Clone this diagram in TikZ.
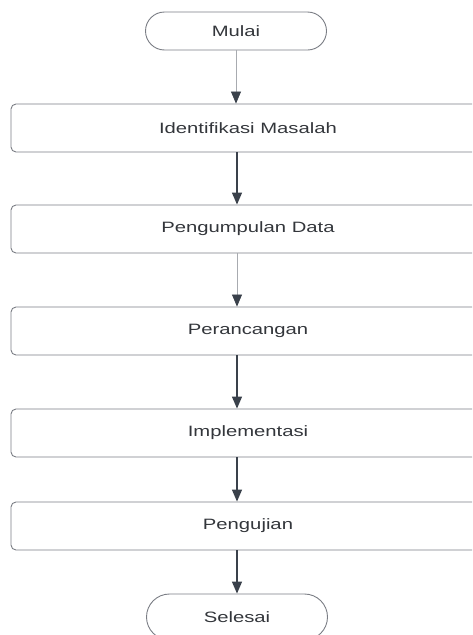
\documentclass[tikz,border=0pt]{standalone}
\usepackage{fontspec}
\setmainfont{Liberation Sans}
\usetikzlibrary{arrows.meta,shapes.misc}
\definecolor{arrowdark}{HTML}{3A414B}
\definecolor{boxline}{HTML}{7A7D84}
\definecolor{lightline}{HTML}{A8ABB0}
\definecolor{txt}{HTML}{33363B}
\newcommand{\wtext}[1]{\scalebox{1.35}[1]{#1}}
\tikzset{
  x=1pt,y=1pt,
  procbox/.style={draw=boxline,line width=0.9pt,rounded corners=5pt,minimum width=474pt,minimum height=48pt,inner sep=0pt,text=txt,font=\fontsize{15}{18}\selectfont},
  termbox/.style={draw=boxline,line width=0.9pt,rounded rectangle,minimum width=181pt,minimum height=38pt,inner sep=0pt,text=txt,font=\fontsize{15}{18}\selectfont},
  darkarrow/.style={draw=arrowdark,line width=1.3pt,-{Triangle[length=12pt,width=10pt,color=arrowdark]}},
  lightarrow/.style={draw=lightline,line width=0.7pt,-{Triangle[length=12pt,width=10pt,color=arrowdark]}}
}
\begin{document}
\begin{tikzpicture}
\useasboundingbox (0,0) rectangle (472,-635);
\clip (0,0) rectangle (472,-635);
\node[termbox] (mulai) at (236,-31) {\wtext{Mulai}};
\node[procbox] (b1) at (248,-128) {\wtext{Identifikasi Masalah}};
\node[procbox] (b2) at (248,-229) {\wtext{Pengumpulan Data}};
\node[procbox] (b3) at (248,-331) {\wtext{Perancangan}};
\node[procbox] (b4) at (248,-433) {\wtext{Implementasi}};
\node[procbox] (b5) at (248,-526) {\wtext{Pengujian}};
\node[termbox,minimum height=46pt] (selesai) at (237,-617) {\wtext{Selesai}};
\coordinate (ax) at (237,0);
\draw[lightarrow] (mulai.south) -- (mulai.south |- b1.north);
\draw[darkarrow] (ax |- b1.south) -- (ax |- b2.north);
\draw[lightarrow] (ax |- b2.south) -- (ax |- b3.north);
\draw[darkarrow] (ax |- b3.south) -- (ax |- b4.north);
\draw[darkarrow] (ax |- b4.south) -- (ax |- b5.north);
\draw[darkarrow] (ax |- b5.south) -- (selesai.north);
\end{tikzpicture}
\end{document}
